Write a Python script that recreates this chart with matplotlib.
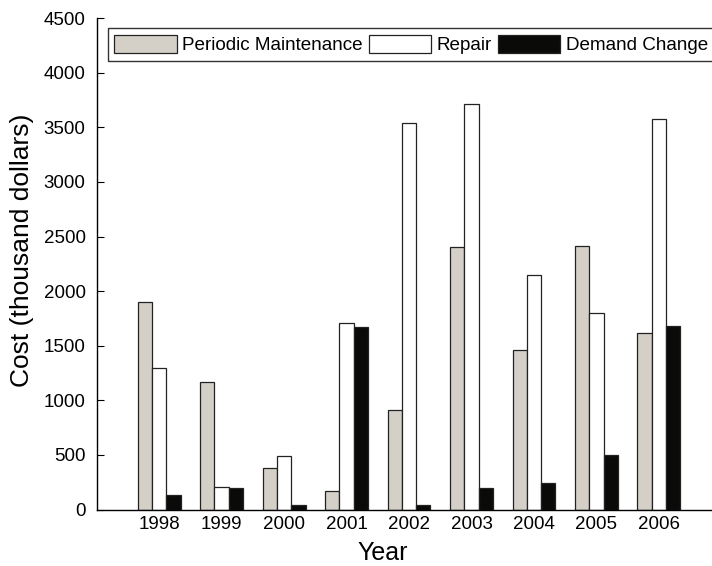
import numpy as np
import matplotlib.pyplot as plt
from matplotlib.patches import Patch

# datos (miles de dolares)
years = ['1998', '1999', '2000', '2001', '2002', '2003', '2004', '2005', '2006']
periodic = [1900, 1170, 380, 170, 910, 2400, 1460, 2410, 1620]
repair = [1300, 210, 490, 1710, 3540, 3710, 2145, 1800, 3580]
demand = [130, 200, 40, 1675, 40, 200, 240, 500, 1685]

plt.rcParams['font.family'] = ['Liberation Sans', 'DejaVu Sans']

fig = plt.figure(figsize=(7.12, 5.66), dpi=100)
ax = fig.add_axes([0.1358, 0.0998, 0.8642, 0.868])

x = np.arange(len(years))
w = 0.229
c_pm = '#d4d0c8'
c_dc = '#0a0a08'

ax.bar(x - w, periodic, w, color=c_pm, edgecolor='#222222', linewidth=0.9)
ax.bar(x, repair, w, color='white', edgecolor='#222222', linewidth=0.9)
ax.bar(x + w, demand, w, color=c_dc, edgecolor='#222222', linewidth=0.9)

ax.set_xlim(-1.0, 8.85)
ax.set_ylim(0, 4500)
ax.set_yticks(np.arange(0, 4501, 500))
ax.set_xticks(x)
ax.set_xticklabels(years)
ax.tick_params(axis='x', length=0, pad=5, labelsize=13.5)
ax.tick_params(axis='y', direction='in', length=5, pad=8, labelsize=13.5)

for s in ['top', 'right']:
    ax.spines[s].set_visible(False)
for s in ['left', 'bottom']:
    ax.spines[s].set_linewidth(1.0)

ax.set_ylabel('Cost (thousand dollars)', fontsize=19)
ax.yaxis.set_label_coords(-0.102, 0.528)
ax.set_xlabel('Year', fontsize=18)
ax.xaxis.set_label_coords(0.465, -0.0885)
ax.xaxis.label.set_va('center')

handles = [Patch(facecolor=c_pm, edgecolor='#222222', linewidth=0.9, label='Periodic Maintenance'),
           Patch(facecolor='white', edgecolor='#222222', linewidth=0.9, label='Repair'),
           Patch(facecolor=c_dc, edgecolor='#222222', linewidth=0.9, label='Demand Change')]
leg = ax.legend(handles=handles, ncol=3, loc='upper left', bbox_to_anchor=(0.018, 0.98),
                fontsize=13.6, frameon=True, fancybox=False, edgecolor='black',
                handlelength=3.3, handleheight=1.1, handletextpad=0.3,
                columnspacing=0.3, borderpad=0.35, borderaxespad=0)
leg.get_frame().set_linewidth(1.0)

fig.savefig('out.png', dpi=100)
